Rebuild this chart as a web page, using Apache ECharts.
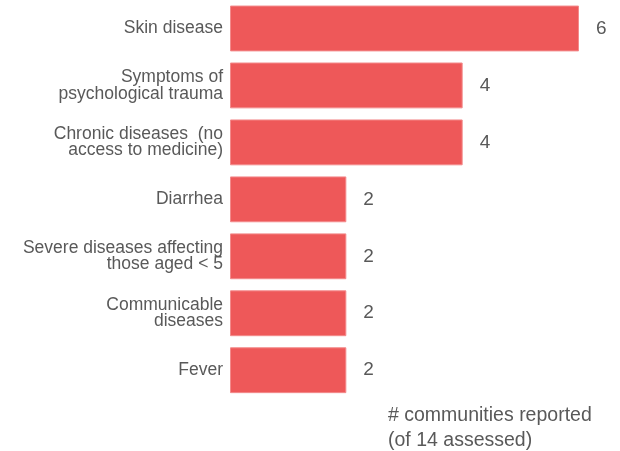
<!DOCTYPE html>
<html><head><meta charset="utf-8">
<script src="https://cdn.jsdelivr.net/npm/echarts@6/dist/echarts.min.js"></script>
<style>html,body{margin:0;padding:0;background:#fff}#c{width:620px;height:451px}</style>
</head><body><div id="c"></div>
<script>
const categories = [
  "Skin disease",
  "Symptoms of\npsychological trauma",
  "Chronic diseases  (no\naccess to medicine)",
  "Diarrhea",
  "Severe diseases affecting\nthose aged < 5",
  "Communicable\ndiseases",
  "Fever"
];
const values = [6, 4, 4, 2, 2, 2, 2];
const footer = "# communities reported\n(of 14 assessed)";

const chart = echarts.init(document.getElementById('c'), null, {renderer: 'canvas'});
chart.setOption({
  animation: false,
  backgroundColor: '#fff',
  title: {
    text: footer, left: 383, top: 398,
    textStyle: {fontFamily: 'Liberation Sans', fontSize: 19.5, fontWeight: 'normal', color: '#595959', lineHeight: 25}
  },
  grid: {left: 230, right: 41, top: -1.3, height: 400, containLabel: false},
  xAxis: {type: 'value', min: 0, max: 6, show: false},
  yAxis: {
    type: 'category', data: categories, inverse: true,
    axisLine: {show: false}, axisTick: {show: false}, splitLine: {show: false},
    axisLabel: {fontFamily: 'Liberation Sans', fontSize: 17.5, color: '#595959', lineHeight: 16.5, margin: 7, align: 'right'}
  },
  series: [{
    type: 'bar', data: values, barCategoryGap: '19.5%',
    itemStyle: {color: '#EE5859', borderColor: '#F38A8B', borderWidth: 1},
    label: {show: true, position: 'right', distance: 17, fontFamily: 'Liberation Sans', fontSize: 19, color: '#595959'}
  }]
});
</script></body></html>
